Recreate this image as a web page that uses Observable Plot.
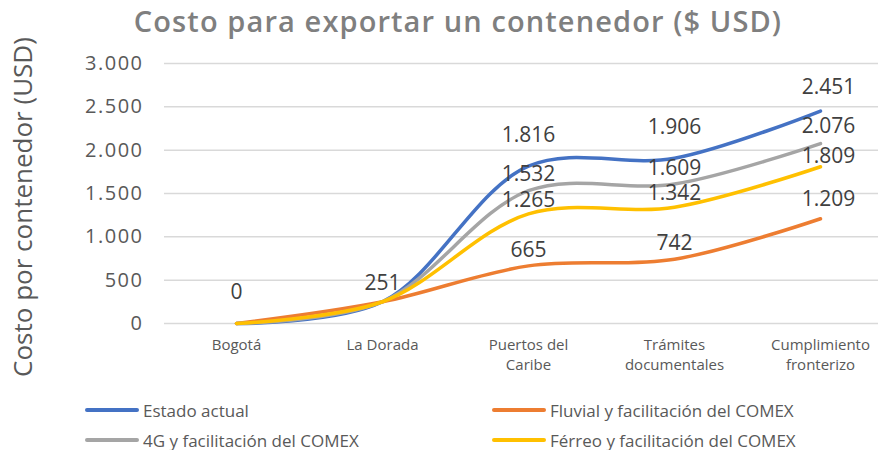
<!DOCTYPE html>
<html>
<head>
<meta charset="utf-8">
<script src="https://cdn.jsdelivr.net/npm/d3@7"></script>
<script src="https://cdn.jsdelivr.net/npm/@observablehq/plot@0.6"></script>
<style>
  html, body { margin: 0; padding: 0; background: #fff; }
  #wrap { position: relative; width: 878px; height: 450px; overflow: hidden; font-family: "Open Sans", sans-serif; }
  #title { position: absolute; left: 0; width: 916px; top: 1px; text-align: center; font-size: 29px; letter-spacing: 1.1px; font-weight: 600; color: #7f7f7f; white-space: nowrap; }
  #ylabel { position: absolute; left: 22px; top: 207px; transform: translate(-50%, -50%) rotate(-90deg); font-size: 26px; color: #595959; white-space: nowrap; }
  #chart { position: absolute; left: 0; top: 0; }
  .leg { position: absolute; display: flex; align-items: center; font-size: 17px; color: #595959; white-space: nowrap; }
  .leg .sw { width: 54px; height: 4px; margin-right: 4px; border-radius: 2px; }
  g[aria-label="y-axis tick label"] text { letter-spacing: 1.5px; }
</style>
</head>
<body>
<div id="wrap">
  <div id="chart"></div>
  <div id="title"></div>
  <div id="ylabel"></div>
  <div id="legend"></div>
</div>
<script>
const titleText = "Costo para exportar un contenedor ($ USD)";
const yLabelText = "Costo por contenedor (USD)";
const categories = ["Bogotá", "La Dorada", "Puertos del Caribe", "Trámites documentales", "Cumplimiento fronterizo"];
const categoryTickLabels = ["Bogotá", "La Dorada", "Puertos del\nCaribe", "Trámites\ndocumentales", "Cumplimiento\nfronterizo"];
const yTicks = [0, 500, 1000, 1500, 2000, 2500, 3000];
const seriesNames = ["Estado actual", "Fluvial y facilitación del COMEX", "4G y facilitación del COMEX", "Férreo y facilitación del COMEX"];
const seriesColors = ["#4472c4", "#ed7d31", "#a5a5a5", "#ffc000"];
const estadoActual = [0, 251, 1816, 1906, 2451];
const fluvial = [0, 251, 665, 742, 1209];
const cuatroG = [0, 251, 1532, 1609, 2076];
const ferreo = [0, 251, 1265, 1342, 1809];

const seriesValues = [estadoActual, fluvial, cuatroG, ferreo];
const rows = [];
seriesNames.forEach((s, si) => {
  categories.forEach((c, ci) => rows.push({series: s, cat: c, value: seriesValues[si][ci], idx: ci}));
});

const fmt = d => d3.format(",")(d).replace(/,/g, ".");

// labels that coincide for all series are drawn once (they overlap exactly in the reference)
const isShared = ci => seriesValues.every(v => v[ci] === seriesValues[0][ci]);
const sharedRows = rows.filter(r => r.series === seriesNames[0] && isShared(r.idx));
const ownRows = rows.filter(r => !isShared(r.idx));

// label offsets (style) per series: [dy for inner points, dy for last point]
const labelDy = {
  "Estado actual": [-31, -24],
  "Fluvial y facilitación del COMEX": [-16, -19],
  "4G y facilitación del COMEX": [-16, -17],
  "Férreo y facilitación del COMEX": [-14, -10]
};
const last = categories[categories.length - 1];

const labelStyle = {fontSize: 21, fill: "#404040"};
const labelMarks = [
  Plot.text(sharedRows.filter(r => r.value === 0), {x: "cat", y: "value", text: d => fmt(d.value), dy: -31, ...labelStyle}),
  Plot.text(sharedRows.filter(r => r.value !== 0), {x: "cat", y: "value", text: d => fmt(d.value), dy: -18, ...labelStyle})
];
seriesNames.forEach(s => {
  labelMarks.push(Plot.text(ownRows.filter(r => r.series === s && r.cat !== last), {
    x: "cat", y: "value", text: d => fmt(d.value), dy: labelDy[s][0], ...labelStyle
  }));
  labelMarks.push(Plot.text(ownRows.filter(r => r.series === s && r.cat === last), {
    x: "cat", y: "value", text: d => fmt(d.value), dy: labelDy[s][1], dx: 8, ...labelStyle
  }));
});

const chart = Plot.plot({
  width: 878,
  height: 450,
  marginTop: 63,
  marginBottom: 127,
  marginLeft: 164,
  marginRight: 0,
  style: {fontFamily: "Open Sans, sans-serif", background: "transparent", overflow: "visible"},
  x: {type: "point", domain: categories, range: [236, 820], padding: 0, label: null},
  y: {domain: [0, 3000], label: null},
  color: {domain: seriesNames, range: seriesColors},
  marks: [
    Plot.gridY(yTicks, {stroke: "#d9d9d9", strokeOpacity: 1, strokeWidth: 1.5}),
    Plot.axisY(yTicks, {tickSize: 0, tickPadding: 21, tickFormat: fmt, fontSize: 20, fill: "#595959", label: null}),
    Plot.axisX({tickSize: 0, tickPadding: 12, fontSize: 15, fill: "#595959", label: null, lineHeight: 1.35,
      tickFormat: d => categoryTickLabels[categories.indexOf(d)]}),
    Plot.line(rows, {x: "cat", y: "value", z: "series", stroke: "series", curve: "catmull-rom", strokeWidth: 3.5, strokeLinecap: "round"}),
    ...labelMarks
  ]
});
document.getElementById("chart").appendChild(chart);
document.getElementById("title").textContent = titleText;
document.getElementById("ylabel").textContent = yLabelText;

const legendPos = [[85, 410], [492, 410], [85, 440], [492, 440]];
const legend = document.getElementById("legend");
seriesNames.forEach((s, i) => {
  const d = document.createElement("div");
  d.className = "leg";
  d.style.left = legendPos[i][0] + "px";
  d.style.top = (legendPos[i][1] - 12) + "px";
  d.style.height = "24px";
  const sw = document.createElement("span");
  sw.className = "sw";
  sw.style.background = seriesColors[i];
  const t = document.createElement("span");
  t.textContent = s;
  d.appendChild(sw);
  d.appendChild(t);
  legend.appendChild(d);
});
</script>
</body>
</html>
